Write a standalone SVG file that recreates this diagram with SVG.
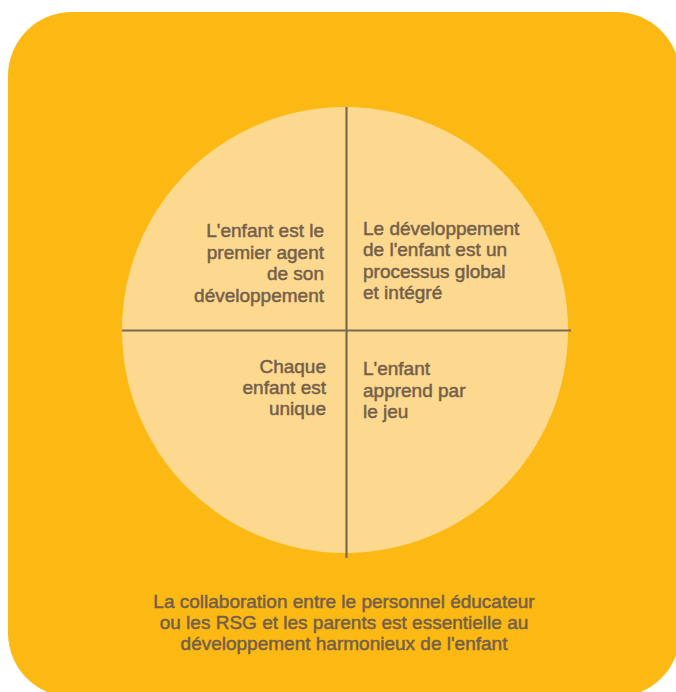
<svg xmlns="http://www.w3.org/2000/svg" width="676" height="692" viewBox="0 0 676 692">
<style>
.t{font-family:"Liberation Sans",Arial,sans-serif;font-size:19px;fill:#74604a;stroke:#74604a;stroke-width:0.5}
.r{text-anchor:end}
.c{text-anchor:middle}
.ln{stroke:#7a6a52;stroke-width:2.2;fill:none}
</style>
<rect width="676" height="692" fill="#ffffff"/>
<g id="frame"><rect x="8" y="12" width="672" height="685" rx="64" ry="64" fill="#fdb913"/></g>
<g id="circle"><circle cx="345" cy="330" r="223" fill="#fdd98f"/></g>
<g id="connectors">
<line class="ln" x1="346.5" y1="107" x2="346.5" y2="558"/>
<line class="ln" x1="122" y1="330.5" x2="571" y2="330.5"/>
</g>
<g id="q1"><text class="t r" x="324"><tspan x="324" y="237">L'enfant est le</tspan><tspan x="324" y="258.5">premier agent</tspan><tspan x="324" y="280">de son</tspan><tspan x="324" y="301.5">développement</tspan></text></g>
<g id="q2"><text class="t" x="363"><tspan x="363" y="234.5">Le développement</tspan><tspan x="363" y="256">de l'enfant est un</tspan><tspan x="363" y="277.5">processus global</tspan><tspan x="363" y="299">et intégré</tspan></text></g>
<g id="q3"><text class="t r" x="326"><tspan x="326" y="373">Chaque</tspan><tspan x="326" y="394">enfant est</tspan><tspan x="326" y="415">unique</tspan></text></g>
<g id="q4"><text class="t" x="363"><tspan x="363" y="375">L'enfant</tspan><tspan x="363" y="396.5">apprend par</tspan><tspan x="363" y="418">le jeu</tspan></text></g>
<g id="footer"><text class="t c" x="344"><tspan x="344" y="607.5">La collaboration entre le personnel éducateur</tspan><tspan x="344" y="628.5">ou les RSG et les parents est essentielle au</tspan><tspan x="344" y="649.5">développement harmonieux de l'enfant</tspan></text></g>
</svg>
